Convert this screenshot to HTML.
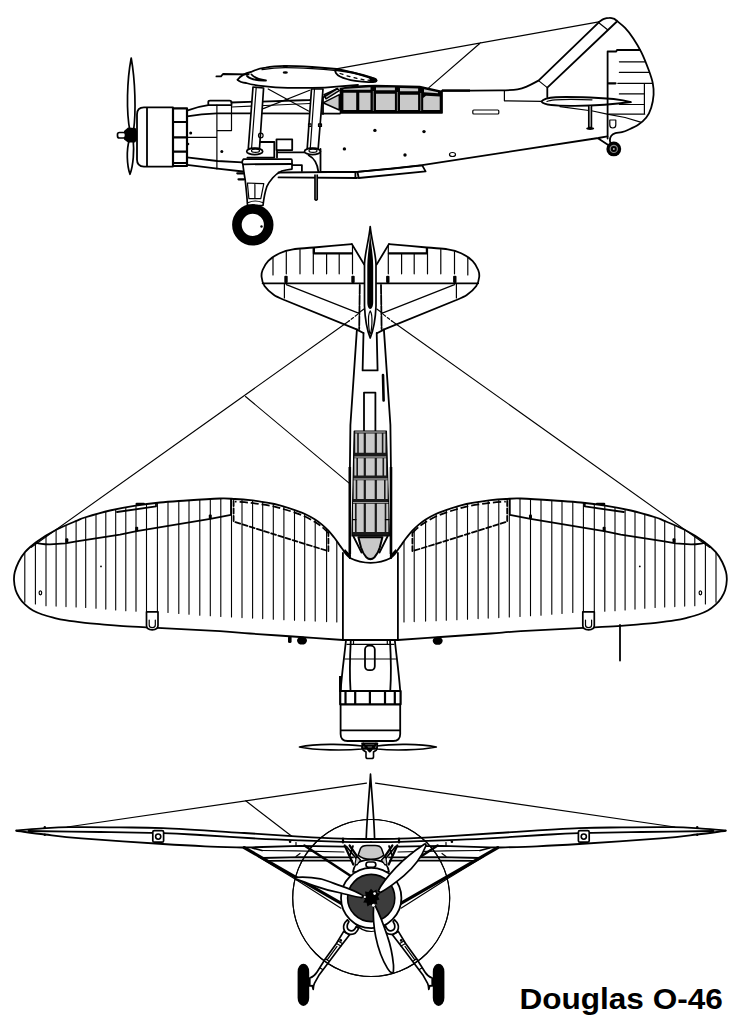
<!DOCTYPE html>
<html><head><meta charset="utf-8">
<style>
html,body{margin:0;padding:0;background:#fff;}
body{width:737px;height:1024px;overflow:hidden;position:relative;font-family:"Liberation Sans",sans-serif;}
svg{position:absolute;left:0;top:0;display:block;}
.m{fill:none;stroke:#000;stroke-width:1.8;stroke-linecap:round;stroke-linejoin:round;}
.t{fill:none;stroke:#000;stroke-width:1.2;stroke-linecap:round;stroke-linejoin:round;}
.h{fill:none;stroke:#000;stroke-width:1.1;stroke-linecap:round;}
.k{fill:none;stroke:#000;stroke-width:2.2;stroke-linecap:round;stroke-linejoin:round;}
.w{fill:#fff;stroke:#000;stroke-width:1.7;stroke-linejoin:round;}
.g{fill:#c9c9c9;stroke:#000;stroke-width:1.5;stroke-linejoin:round;}
.b{fill:#000;stroke:none;}
</style></head><body>
<svg width="737" height="1024" viewBox="0 0 737 1024">
<rect width="737" height="1024" fill="#fff"/>
<!--SIDE-->
<g id="side">
<!-- antenna wires -->
<path class="t" d="M336.3,68.8 L598.8,21.8 M428.9,87.6 L480.6,42.8"/>
<!-- propeller -->
<path class="w" d="M130,131 C126,112 127,80 131.2,58 C135.2,80 136.2,112 133.5,131 Z"/>
<path class="w" d="M129.3,140 C126.3,150 126.8,165 130,174.3 C133.5,165 134.2,150 133.2,140 Z"/>
<path class="b" d="M124,131 L128,127.5 L135.5,128 L137,131 L137,140 L135,142.5 L128,142.5 L124,139.5 Z"/>
<rect x="117.5" y="132.5" width="8" height="5.5" rx="2" class="w"/>
<!-- cowl -->
<path class="m" d="M144,107.4 H173 V166.6 H144 Q137,166.6 137,159.6 V114.4 Q137,107.4 144,107.4 Z M147,107.4 V166.6"/>
<path class="k" d="M173,108.3 H187 V166 H173 Z M173,122 H187 M173,137.4 H187 M173,151.6 H187 M173,163 H187"/>
<!-- forward fuselage -->
<path class="m" d="M187,110.7 C194,108 202,106 208.3,105.2 L208.3,102 Q208.3,100.6 210,100.6 L229.5,100.6 Q231.5,100.6 231.5,102.5 L231.5,105 M208.3,105.2 L231.5,105"/>
<path class="m" d="M231.5,102.5 L309.7,100 L323,97.6"/>
<path class="t" d="M231.5,107 L310,103.5"/>
<path class="m" d="M187,116.3 C197,114.5 207,113.6 216.9,113.4 L340,113.6"/>
<path class="t" d="M216.9,105 V169 M216.9,130.6 H231.5 V105 M187,137.4 H216.9"/>
<path class="m" d="M187,157.4 L217.4,161 L242.5,162.3 M187,164.8 L217.4,168.6 L243,171.5"/>
<circle class="b" cx="190.7" cy="133" r="1.5"/><circle class="b" cx="221.8" cy="151.4" r="1.5"/>
<circle class="b" cx="188" cy="144" r="1.3"/>
<!-- fuselage rear -->
<path class="m" d="M442.0,90.6 C451.7,90.6 487.4,90.6 500.0,90.4 C512.6,90.2 512.9,90.2 517.6,89.4 C522.3,88.7 524.7,87.4 528.2,85.9 C531.7,84.4 536.8,81.5 538.5,80.6 L598.8,22.4"/>
<path class="m" d="M598.8,22.0 C599.7,21.5 602.2,19.6 604.0,18.9 C605.8,18.2 607.8,17.9 609.4,17.9 C611.0,17.8 612.4,18.2 613.5,18.6 C614.6,19.0 614.3,18.8 616.2,20.3 C618.1,21.9 622.2,24.9 625.1,27.9 C628.0,30.9 630.6,34.4 633.3,38.5 C636.0,42.6 638.8,47.0 641.4,52.3 C644.0,57.6 646.9,65.1 648.8,70.3 C650.7,75.5 652.0,79.2 652.8,83.3 C653.6,87.4 653.9,90.6 653.6,94.7 C653.3,98.8 652.4,103.9 651.2,107.7 C650.0,111.5 648.5,114.7 646.3,117.5 C644.1,120.3 641.2,122.8 638.2,124.8 C635.2,126.8 631.1,128.5 628.4,129.7 C625.7,130.9 624.1,131.5 621.9,132.1 C619.7,132.7 617.2,132.6 615.4,133.2 C613.6,133.8 612.2,134.6 611.3,135.8 C610.4,137.0 609.9,139.0 609.9,140.5 C609.9,142.0 610.8,144.2 611.0,145.0"/>
<path class="m" d="M547.3,87.6 L616.4,22 M547.3,87.6 V97"/>
<path class="t" d="M538.5,80.6 L547.3,87.6 M598.8,22.7 L607.6,29.8"/>
<path class="t" d="M504.4,91 V100.8 L541.5,101.4"/>
<!-- fuselage bottom -->
<path class="m" d="M320.5,171.8 L357,171.8 L392.9,168.4 L422.2,165.2 L440,162.3 L598.3,138 L607.4,136.3 M598.3,138.4 L609,145.4"/>
<!-- rudder -->
<path class="m" d="M607.6,51.5 V138.5 M607.6,51.5 L616.2,51.5 L617,50 L639.8,50"/>
<path class="t" d="M619.4,61.8 H644.7 M619.4,72.4 H648.6 M617.8,83.3 H652.4 M619.4,93.9 H644 M619.4,104.5 H644 M608.9,114.2 H644.7 M644.4,83.3 V114.2"/>
<path class="k" d="M608.5,83.3 H615.5"/>
<path class="t" d="M560,106.6 L592.6,111 L607.2,114.2 L625.1,117.5 L641.4,122.4"/>
<!-- stabilizer side -->
<path class="m" d="M541.4,101.5 C545,96.5 560,96.5 590,97.5 C610,98.2 625,100.5 631,102 C620,103.5 600,105.5 575,105.8 C555,106 544,105.5 541.4,101.5 Z"/>
<path class="t" d="M547,101.5 C552,99 570,99 592,99.8"/>
<path class="w" d="M588.8,106 V127.5 H591.4 V106"/>
<ellipse class="b" cx="590.2" cy="128.6" rx="4" ry="1.4"/>
<path class="t" d="M609.8,120 H615.8 V125 Q615.8,128 612.8,128 Q609.8,128 609.8,125 Z"/>
<!-- tail wheel -->

<circle cx="613.8" cy="148.9" r="7.4" fill="#000"/>
<circle cx="613.8" cy="148.9" r="3.6" fill="none" stroke="#8a8a8a" stroke-width="1.2"/>
<circle cx="613.8" cy="148.9" r="1" fill="#bbb"/>
<!-- misc fuselage -->
<rect class="t" x="472.8" y="110" width="26" height="4" rx="1"/>
<ellipse class="t" cx="452.5" cy="154.5" rx="3" ry="2"/>
<circle class="b" cx="374.9" cy="130.4" r="1.7"/><circle class="b" cx="424" cy="131.6" r="1.7"/>
<circle class="b" cx="344.4" cy="148.9" r="1.7"/><circle class="b" cx="405" cy="155" r="1.7"/>
</g>
<g id="side2">
<!-- wing airfoil -->
<path class="m" d="M237.6,79.8 C241,75 246,73 251,72 C256,69.5 262,68 265.7,67.6 C272,66.2 279,65.9 285.3,65.9 C294,65.9 304,66.5 312,67 C322,67.6 330,68.3 336.6,69 C350,71 362,75 376,79.6"/>
<path class="m" d="M237.6,79.8 C240,82 243,82.6 246.2,83 C252,84.8 258,85.6 263.3,86.2 C272,87.4 280,87.9 287.7,87.9 L312,87.9 C322,87.8 330,87.3 336.6,86.6 C345,86 352,85.5 358,85"/>
<path class="t" d="M262,69.6 C272,68 279,67.6 285.3,67.6 C294,67.6 304,68.2 312,68.7 C322,69.3 330,70 336.6,70.6"/>
<path class="m" d="M247,76 C250,79 256,80.8 266,80.5 C259,79.5 254,77.5 251.5,74.5"/>
<ellipse class="b" cx="285.3" cy="66.3" rx="2.6" ry="1.3"/><ellipse class="b" cx="285.3" cy="72.5" rx="2.6" ry="1.3"/>
<path class="m" d="M248.6,74.4 L223,74 L221,76.4 L216.4,76.4"/>
<!-- wing tip oval -->
<path class="m" d="M335.5,70 C345,71 360,74 372,77.5 C378,79 378,82.5 372,82 C362,82.5 348,80.5 340,76.5 C336,74.5 334.5,71.5 335.5,70 Z"/>
<path class="t" d="M340,73.5 L343,74.3 M347,75.8 L350,76.6 M354,77.6 L357,78.4 M361,79.2 L364,79.8 M368,80.2 L370,80.5" />
<path class="b" d="M369,77 L376.5,79 Q378.5,81 376,82.3 L370,82 Z"/>
<!-- cabane struts -->
<path class="w" d="M253,87 L248.3,148.5 L259.5,148.5 L263.6,88 Z"/>
<path class="t" d="M256.2,87.5 L251.6,148"/>
<path class="w" d="M311.5,89 L307.2,148.5 L318.2,148.5 L323,89 Z"/>
<path class="t" d="M314.5,89 L310.3,148"/>
<ellipse class="w" cx="254.7" cy="151.4" rx="8" ry="3.2"/><ellipse class="t" cx="255.5" cy="150.8" rx="4" ry="1.6"/>
<ellipse class="w" cx="312.5" cy="151.4" rx="8" ry="3.2"/><ellipse class="t" cx="313" cy="150.8" rx="4" ry="1.6"/>
<path class="t" d="M268.2,89 L308.5,111 M263.3,108.6 L309.7,90.3"/>
<circle class="t" cx="260.8" cy="135.5" r="2.3"/>
<path class="t" d="M308.5,123.8 H311 V126.5 H308.5 Z M318.5,123.8 H321.5 V126.5 H318.5 Z"/>
<!-- canopy -->
<path class="g" d="M323,102.8 L339.3,94.7 L339.3,110 Z"/>
<path class="g" d="M324,94.7 L337.3,88.6 L339.3,90.6 L326,98.8 Z"/>
<path class="m" d="M323,97.6 L337.3,88.6 M323,97.6 V114"/>
<path d="M340.4,88.6 C352,86.3 364,85.5 375,85.5 L419.7,86.5 L442.1,91.6 L442.1,113 L340.4,113 Z" fill="#000" stroke="#000" stroke-width="1.5" stroke-linejoin="round"/>
<path fill="#c9c9c9" d="M343.4,92.7 H356.2 V110 H343.4 Z M359.3,92.7 H370.5 V110 H359.3 Z M376,93.7 H394.9 V110 H376 Z M400,94.7 H418.1 V110 H400 Z M426,95.7 L439.7,96.5 V110 H423.2 V98 Z"/>
<path fill="#c9c9c9" d="M343.4,88.9 L370.5,87.3 V89.7 H343.4 Z M376,87.6 H394.9 V90.3 H376 Z M400,88 L418.1,88.4 V91.3 H400 Z M424,89.3 L438,92.3 V93.3 L424,92.2 Z"/>
<path stroke="#9a9a9a" stroke-width="0.8" fill="none" d="M373.3,91 V111 M397.4,92 V111 M420.7,93 V111"/>
<path d="M442,90.6 H470" stroke="#000" stroke-width="2.4" fill="none"/>
<!-- boxes by gear -->
<path class="m" d="M276.5,139.3 H292.2 V150.1 H276.5 Z"/>
<path class="m" d="M260.5,142 H274.3 V157.6 M247.4,157.6 H274.3 M277,150.3 V157.6 M277.2,152.4 H304 M292.2,165.1 H301.9 V171"/>
<!-- rear strut fairing -->
<path class="m" d="M308.6,155.2 C314,158 317.5,164 318.3,171.5"/>
<path class="m" d="M320.5,149 V172"/>
<!-- landing gear leg -->
<path class="w" d="M243.5,159.1 L291,159.1 Q292,159.1 292,160.5 L292,169.1 C288,169.6 284.5,170.2 281.7,171 C277.5,173 274.8,175.5 272.8,177.8 C270,181 268,184 266.8,186.7 C265,192 263.8,198 263,205.5 L247.5,205.5 C247,196 246,187 245.1,179.3 C244.2,174 243.4,169 242.9,164.3 Q241.2,161.5 243.5,159.1 Z"/>
<path class="m" d="M242.9,164.3 L292,164"/>
<path class="t" d="M247.4,183 L263.8,183.7 L260.8,198.7 L248.9,198.7 Z M254.9,183.3 V198.7 M248.5,202.5 Q255,199.5 262.5,202.5"/>
<path class="k" d="M237.3,173.3 H243.5 M238.5,179.3 H244"/>
<!-- lower strut -->
<path class="m" d="M278.5,172.5 L355.4,171.8 V178 M278.5,177.4 L357,178 M357.4,171.8 L392.9,168.6 L422.2,165.4 L425.6,171.4 L358.7,178 Z"/>
<path class="w" d="M315,174.6 V199.5 Q316.1,200.6 317.2,199.5 V174.6" />
<!-- main wheel -->
<circle cx="252.8" cy="224.8" r="15.9" fill="#fff" stroke="#000" stroke-width="9.6"/>
<circle class="b" cx="261.5" cy="226.5" r="1.2"/>
</g>
<!--TOP-->
<g id="top">
<g id="LH">
<path class="m" d="M350.0,558.0 C349.3,557.3 347.4,555.8 345.7,553.6 C344.0,551.5 341.6,547.8 339.6,545.1 C337.7,542.4 335.9,539.7 334.0,537.3 C332.1,534.9 330.4,532.7 328.4,530.6 C326.4,528.5 324.2,526.5 322.0,524.6 C319.8,522.8 317.9,521.3 315.1,519.5 C312.3,517.7 308.4,515.6 305.0,514.0 C301.6,512.4 298.3,511.3 294.8,510.1 C291.3,508.9 287.4,507.6 284.0,506.6 C280.6,505.6 278.1,504.8 274.4,504.0 C270.7,503.2 266.1,502.4 262.0,501.8 C257.9,501.2 254.5,500.7 250.0,500.2 C245.5,499.7 240.0,499.3 235.0,499.0 C230.0,498.7 228.1,498.2 220.0,498.5 C211.9,498.8 196.6,499.8 186.6,500.5 C176.6,501.2 168.5,501.6 160.0,502.5 C151.5,503.4 144.0,504.3 135.7,505.6 C127.4,506.9 118.5,508.5 110.0,510.5 C101.5,512.5 90.4,515.8 84.8,517.5 C79.2,519.2 81.3,518.8 76.5,520.8 C71.7,522.8 62.7,526.4 56.2,529.8 C49.7,533.2 42.7,537.5 37.5,541.2 C32.3,544.9 28.3,548.3 25.2,551.8 C22.1,555.3 20.3,558.6 18.6,562.0 C16.9,565.4 15.6,569.0 14.8,572.0 C14.0,575.0 13.9,577.0 14.0,580.0 C14.1,583.0 14.7,587.0 15.6,590.0 C16.5,593.0 17.9,595.5 19.5,598.0 C21.1,600.5 22.9,602.6 25.2,604.7 C27.4,606.8 30.1,608.9 33.0,610.5 C35.9,612.1 38.8,613.3 42.3,614.5 C45.8,615.7 50.2,616.8 54.0,617.8 C57.8,618.8 59.9,619.4 65.1,620.2 C70.3,621.0 78.9,622.1 85.0,622.8 C91.1,623.5 96.0,623.8 101.8,624.3 C107.6,624.8 111.5,625.3 120.0,625.9 C128.5,626.5 135.9,626.8 152.6,627.7 C169.3,628.6 203.8,630.2 220.0,631.2 C236.2,632.2 236.7,632.5 250.0,633.5 C263.3,634.5 284.5,635.9 300.0,637.0 C315.5,638.1 335.8,639.5 342.9,640.0"/>
<path class="h" d="M24.8,552.7 V602.3 M35.4,543.2 V604.0 M46.0,536.1 V605.7 M56.1,530.4 V606.1 M66.0,525.7 V606.6 M76.1,521.5 V607.0 M85.7,517.7 V607.4 M96.0,514.7 V608.3 M105.8,512.0 V609.1 M115.7,509.7 V609.9 M125.8,507.8 V610.8 M136.0,506.1 V611.2 M146.5,504.5 V611.6 M157.4,503.3 V612.1 M168.0,502.3 V612.5 M178.8,501.5 V613.4 M189.0,500.8 V614.3 M199.8,500.1 V615.2 M210.3,499.5 V615.8 M220.8,499.0 V616.4 M231.5,499.3 V617.0 M242.0,500.0 V617.6 M252.6,501.0 V618.1 M262.7,502.4 V618.6 M273.3,504.3 V619.2 M283.9,507.1 V619.7 M294.5,510.5 V620.2 M304.7,514.4 V620.7 M315.2,520.1 V621.1 M326.6,529.3 V621.6 M336.8,541.6 V622.0"/>
<path class="m" d="M35.8,542.6 Q41,544.4 50,544.3 L65.1,543.4 L76.5,541.4 L120,534.6 L136.7,531.2 L210.3,518.8 L231,514.8 M231,499.2 V514.8"/>
<rect class="b" x="65.3" y="538.2" width="3" height="4.6" rx="1"/>
<rect class="b" x="135.2" y="526.8" width="3" height="4.6" rx="1"/>
<rect class="b" x="208.8" y="514.4" width="3" height="4.6" rx="1"/>
<path class="m" d="M117,512 L156,506.4 V503.4"/>
<rect class="b" x="135.5" y="502.7" width="9.5" height="2.4" rx="1.2"/>
<path class="m" stroke-dasharray="5 2.5" d="M233.6,501 V521.6 L328.4,551.2 V532.5"/>
<path d="M328.4,533.0 C327.3,532.0 324.2,528.8 322.0,527.0 C319.8,525.2 317.9,523.7 315.1,522.0 C312.3,520.3 308.4,518.2 305.0,516.6 C301.6,515.0 298.3,513.8 294.8,512.6 C291.3,511.4 287.4,510.2 284.0,509.2 C280.6,508.2 278.1,507.4 274.4,506.6 C270.7,505.8 266.1,505.0 262.0,504.4 C257.9,503.8 254.5,503.3 250.0,502.8 C245.5,502.3 237.5,501.8 235.0,501.6" fill="none" stroke="#000" stroke-width="1.7" stroke-dasharray="8 3"/>
<path class="w" d="M146.5,611.8 H158 V625.5 Q158,629.8 152.2,629.8 Q146.5,629.8 146.5,625.5 Z"/>
<path class="t" d="M149.2,620 V625 Q149.2,627.6 152.2,627.6 Q155.3,627.6 155.3,625 V620"/>
<ellipse class="t" cx="40.4" cy="592.8" rx="1.3" ry="2"/>
<path class="m" d="M351.9,244.1 C345.6,244.7 323.7,246.6 313.9,247.5 C304.1,248.4 298.7,248.5 293.0,249.4 C287.3,250.3 283.8,251.3 279.7,253.2 C275.6,255.1 271.1,258.0 268.3,260.8 C265.5,263.6 263.7,267.3 262.6,270.0 C261.5,272.7 261.3,274.3 261.6,277.0 C261.9,279.7 262.4,283.0 264.5,286.0 C266.6,289.0 270.7,292.7 274.0,295.0 C277.3,297.3 282.7,299.2 284.4,300.0 L357.2,329.6"/>
<path class="m" d="M262.6,283.3 H364.2 M351.9,244.1 L364.2,264.6"/>
<path class="k" d="M313.9,248.2 V253.4 H351.9"/>
<path class="t" d="M273.0,258.0 V275.0 M286.3,251.6 V273.8 M300.0,249.6 V273.8 M313.3,248.5 V273.8 M326.6,253.8 V273.8 M339.2,253.8 V273.8 M352.5,245.5 V273.8"/>
<rect class="b" x="284.3" y="275.7" width="3.4" height="7.2" rx="1"/>
<rect class="b" x="351.3" y="275.7" width="3.4" height="7.2" rx="1"/>
<path class="t" d="M284.4,283.3 V298 M286.3,284.6 L358.5,313.1"/>
<path class="h" d="M349,321 L31,547.5"/>
<circle class="b" cx="101" cy="566.4" r="0.9"/>
<path class="h" stroke-dasharray="3 2" d="M357.5,314.4 L349,321"/>
<path class="m" d="M356.9,329.6 L350.4,425 L349.9,467 L350,558"/>
<path class="m" stroke-dasharray="9 1.5" d="M359.8,285 L359.2,329"/>
<path class="t" d="M358.5,313.1 L364,309"/>
<path class="m" d="M356.9,329.6 L363.4,333"/>
</g>
<use href="#LH" transform="matrix(-1,0,0,1,740.8,0)"/>
<path class="w" d="M370.2,226.6 C369,240 365,252 364.5,264 L364.5,306 C365,318 367,330 370.2,338 C373.5,330 375.5,318 376,306 L376,264 C375.5,252 371.5,240 370.2,226.6 Z"/>
<path class="b" d="M370.2,232 C369.3,246 367.3,256 367.3,266 L367.3,302 C367.3,306 368.5,309 370.2,309 C372,309 373.2,306 373.2,302 L373.2,266 C373.2,256 371.2,246 370.2,232 Z"/>
<path class="t" d="M370.2,311 C368.6,313 368.3,318 368.6,324 C369,330 369.6,333 370.2,334 C370.9,333 371.5,330 371.9,324 C372.2,318 371.9,313 370.2,311 Z"/>
<path class="m" d="M363.5,333 L362.6,370.4 H377.6 L376.7,333"/>
<path class="m" d="M364,431.7 V392.6 H375.4 V431.7"/>
<path d="M383,375 L383.6,400.5" stroke="#000" stroke-width="2.6" stroke-linecap="round" fill="none"/>
<path d="M354.2,431 H386.4 L389.3,533.6 V536 H352 V533.6 Z" fill="#1a1a1a" stroke="#000" stroke-width="1.2" stroke-linejoin="round"/>
<path fill="#c9c9c9" d="M355.2,433.4 H357.2 V452.8 H355.2 Z M358.8,433.4 H363.7 V452.8 H358.8 Z M365.9,433.4 H374.7 V452.8 H365.9 Z M376.9,433.4 H381.8 V452.8 H376.9 Z M383.4,433.4 H385.4 V452.8 H383.4 Z M355.2,431.6 H385.4 V432.5 H355.2 Z M354.4,458.3 H356.4 V475.5 H354.4 Z M358.0,458.3 H363.7 V475.5 H358.0 Z M365.9,458.3 H374.7 V475.5 H365.9 Z M376.9,458.3 H382.5 V475.5 H376.9 Z M384.1,458.3 H386.1 V475.5 H384.1 Z M354.4,456.5 H386.1 V457.4 H354.4 Z M353.7,480.3 H355.7 V499.0 H353.7 Z M357.3,480.3 H363.7 V499.0 H357.3 Z M365.9,480.3 H374.7 V499.0 H365.9 Z M376.9,480.3 H384.0 V499.0 H376.9 Z M385.6,480.3 H387.6 V499.0 H385.6 Z M353.7,478.5 H387.6 V479.4 H353.7 Z M353.0,503.7 H355.0 V532.0 H353.0 Z M356.6,503.7 H363.7 V532.0 H356.6 Z M365.9,503.7 H374.7 V532.0 H365.9 Z M376.9,503.7 H384.7 V532.0 H376.9 Z M386.3,503.7 H388.3 V532.0 H386.3 Z M353.0,501.9 H388.3 V502.8 H353.0 Z"/>
<path class="t" d="M352.5,519.6 H356 M385.4,519.6 H389"/>
<path fill="#c9c9c9" stroke="#000" stroke-width="2" stroke-linejoin="round" d="M358.4,537.2 H382.4 L379.8,547.5 C378.5,552 376.6,555 374.5,557.2 C372,559.6 368.8,559.6 366.3,557.2 C364.2,555 362.4,552 361,547.5 Z"/>
<path class="m" d="M353.5,536.5 L361.5,552.5 M387.5,536.5 L379.5,552.5"/>
<path d="M349.8,467 V554 M391,467 V554" stroke="#000" stroke-width="2.6" fill="none"/>
<path class="m" d="M350,558 C356,561 363,562.8 370.6,562.8 C378,562.8 385,561 390.8,558"/>
<path class="m" d="M342.9,553 V640 H397.9 V553"/>
<path class="b" d="M345,549 L351,555.5 L349.5,558 L343.5,552 Z M395.8,549 L389.8,555.5 L391.3,558 L397.3,552 Z"/>
<path class="m" d="M346,640 C344.5,655 342,672 340.6,690.8 M394.8,640 C396.3,655 398.8,672 400.2,690.8"/>
<path class="m" d="M350.8,640 C350,655 349.5,675 350.5,690 M390,640 C390.8,655 391.3,675 390.3,690"/>
<path class="t" d=" M347,644.4 H393.8 M345,659 H395.8 M353.5,640 V644.4 M387.3,640 V644.4"/>
<rect class="m" x="365" y="645.6" width="9.8" height="24.6" rx="4"/>
<path class="k" d="M340.2,691 H400.6 V704.3 H340.2 Z M345.5,691 V704.3 M355.2,691 V704.3 M369.9,691 V704.3 M385,691 V704.3 M394.8,691 V704.3"/>
<path class="m" d="M340.6,704.3 V734 Q340.6,741 347.6,741 H393.2 Q400.2,741 400.2,734 V704.3 M340.6,730.4 H400.2"/>
<path d="M340.3,676 V692" stroke="#000" stroke-width="2.6" fill="none"/>
<path class="w" d="M299.5,747 C315,743.6 345,743.6 362,746 L362,749 C345,750.6 315,750.4 299.5,747 Z"/>
<path class="w" d="M436.3,747 C420,743.6 392,743.6 377,746 L377,749 C392,750.6 420,750.4 436.3,747 Z"/>
<path fill="#fff" stroke="#000" stroke-width="1.6" stroke-linejoin="round" d="M362,743.2 H377.5 L376.5,750 L373.5,752 V757 Q373.5,758.5 371.5,758.5 H367.8 Q366,758.5 366,757 V752 L363,750 Z"/>
<path d="M363.5,744 L369.5,751 M376,744 L370,751 M364,748.5 L375,748.5 M364,745.5 H375.5" fill="none" stroke="#000" stroke-width="2.6" stroke-linecap="round"/>
<rect class="b" x="288" y="636" width="3.6" height="7" rx="1.6"/>
<ellipse class="b" cx="302" cy="640.6" rx="5" ry="4"/>
<ellipse class="b" cx="437.7" cy="640.8" rx="5" ry="4"/>
<path class="m" d="M620,625 V660.6"/>
<path class="h" d="M245.5,396.5 L349.4,483.4"/>
</g>
<!--FRONT-->
<g id="front">
<circle class="h" cx="371.2" cy="898" r="78.5"/>
<g id="FL">
<path class="m" d="M16.3,830.4 C20.2,830.1 31.2,829.1 40.0,828.6 C48.8,828.1 55.9,827.4 69.2,827.2 C82.5,827.0 104.4,827.2 120.0,827.4 C135.6,827.6 142.1,827.3 162.8,828.2 C183.5,829.1 221.3,831.6 244.2,833.0 C267.1,834.4 283.5,835.6 300.0,836.6 C316.5,837.6 331.2,838.3 343.0,838.7 C354.8,839.1 366.3,839.0 371.0,839.0"/>
<path class="m" d="M28.5,831.0 C40.4,831.2 77.6,831.6 100.0,832.0 C122.4,832.4 146.1,832.7 162.8,833.2 C179.5,833.7 184.2,834.1 200.0,835.0 C215.8,835.9 240.6,837.7 257.3,838.6 C274.0,839.5 285.8,839.9 300.0,840.4 C314.2,840.9 330.6,841.5 342.4,841.8 C354.2,842.1 366.2,842.1 371.0,842.2"/>
<path class="m" d="M16.3,830.8 C21.1,831.4 34.1,833.2 45.0,834.5 C55.9,835.8 61.8,836.8 81.4,838.4 C101.0,840.0 142.2,842.7 162.8,844.0 C183.4,845.3 191.4,845.7 205.0,846.3 C218.6,846.9 237.7,847.3 244.2,847.5"/>
<path class="m" d="M244.2,847.5 L252.3,847.3 L300,845.8 L344.7,846.6"/>
<path class="t" d="M296,842.5 V846"/>
<circle class="b" cx="44.8" cy="827.2" r="1.2"/><circle class="b" cx="44.8" cy="834.8" r="1.2"/>
<rect class="w" x="152.8" y="830.6" width="10.8" height="11.6" rx="1.5"/>
<circle cx="158.2" cy="836.6" r="2.6" fill="#fff" stroke="#000" stroke-width="1.6"/>
<path class="t" d="M67.2,827 L366.5,783.2"/>
<path class="m" d="M262,858 L300,857.2 L353,857.4 M262,858 L267,860.8 L300,860.6 L352,860.6"/>
<path d="M244.2,847.6 L343.8,904.8" stroke="#000" stroke-width="3.2" fill="none" stroke-linecap="round"/>
<path class="t" d="M258,856.5 L295,879 L341,908.2"/>
<path class="m" d="M252.3,848 L262,850.5"/>
<path class="t" d="M262,850.5 L296,850.8 L344,852"/>
<path d="M304.4,845.5 L350.8,876" stroke="#000" stroke-width="2.6" fill="none" stroke-linecap="round"/>
<path class="t" d="M296,856.5 L300,853.5"/>
<path class="k" d="M343,838.7 L343,842.5 M344.7,845.5 L353.3,864.5 M349.6,845.5 L360.6,861.4"/>
<path class="m" d="M346.5,846.5 L357.6,860.2 M353,846 L350,855"/>
<path class="w" d="M343.7,931.4 L336.4,943.5 L325.4,958.8 L316.9,972.3 C315.5,974.5 313,977 309.8,978 L309.8,986 L312.2,985.6 L313.2,989.4 C313.4,986.5 313.8,984.5 314.4,983.3 L319.3,974.7 L328.5,962.5 L340.5,946.6 L349.8,934.4 Z"/>
<path class="t" d="M336.4,943.5 L341,946 M338.2,941 L342.6,943.8 M325.4,958.8 L329.4,961.4 M324,960.8 L328,963.4 M337,946.4 L327.4,959.6 M320.2,968 L322.6,969.6"/>
<circle class="b" cx="340.8" cy="940.4" r="1.3"/>
<path class="w" d="M347.4,919.8 C344.5,922.5 343,925.5 343.7,928.5 C344.3,931.5 346.5,933.8 349.8,934.4 C353.5,934.8 357,932.5 358.6,928.3 L356.2,926.6 C355,929.5 353.3,931 351,930.8 C348.6,930.4 347,928.5 347.2,926 C347.3,924.5 348,923 348.9,921.8 Z"/>
<rect class="b" x="297.6" y="963.7" width="11.6" height="42.2" rx="5.8" ry="8"/>
</g>
<use href="#FL" transform="matrix(-1,0,0,1,742.0,0)"/>
<path class="w" d="M370.5,774.2 C369.6,790 367,815 366.2,838.8 L374.6,838.8 C374,815 371.4,790 370.5,774.2 Z"/>
<path class="t" d="M245.7,800.8 L292.1,836.4"/>
<circle class="b" cx="290.1" cy="841.8" r="1.3"/><circle class="b" cx="451.9" cy="841.8" r="1.3"/>
<circle class="h" cx="371.2" cy="898" r="78.5"/>
<path class="w" d="M353,872 C354,866 357,862.5 360.6,861.4 C364,860 367.5,859.7 370.9,859.7 C374.5,859.7 378,860 381.4,861.4 C385,862.5 388,866 389,872 Z"/>
<path d="M360.5,848.5 C361.5,846.3 364,845.5 367,845.5 L375,845.5 C378,845.5 380.5,846.3 381.5,848.5 L383.8,855 C381,858 376.5,859.3 371,859.3 C365.5,859.3 361,858 358.2,855 Z" fill="#c9c9c9" stroke="#000" stroke-width="1.5" stroke-linejoin="round"/>
<path d="M356.5,856 L360.5,860 L357,865 L355,864 Z M385.5,856 L381.5,860 L385,865 L387,864 Z" fill="#c9c9c9" stroke="#000" stroke-width="1.2" stroke-linejoin="round"/>
<rect class="w" x="366" y="862" width="9.8" height="5.4" rx="2.6"/>
<circle cx="371.2" cy="898" r="30.2" fill="#fff" stroke="#000" stroke-width="1.8"/>
<circle cx="371.2" cy="898" r="23.6" fill="#3c3c3c" stroke="#000" stroke-width="1.6"/>
<path class="t" d="M355,923.5 C360,929.5 366,931.5 371.2,931.5 C377,931.5 383,929.5 387.5,923.5"/>
<path class="w" d="M378.3,890.8 C380,887 388,876 395.8,867.6 C404,859 414,851 424.3,844.2 C425.5,843.5 426.3,844.6 425.8,846 C422,856 414,867 404,875.7 C396,882.5 386,889.5 380.5,892.5 Z"/>
<path class="w" d="M363,895.6 C358,892.5 350,889 340.9,885.9 C334,883.5 327,880.5 320.5,878.8 C312,877.3 303,877 296.5,877.4 C295.2,877.6 295.2,879 296.5,879.4 C302,881 308,883.5 314.4,885.9 C323,889 332,891.3 340.9,893 C349,895 356,897.3 362,897.6 Z"/>
<path class="w" d="M373.6,906.5 C373,915 373.8,927 375.7,936.6 C378,948 383,961 387.5,968.4 C389,971 390.6,972.4 391.9,972.9 C392.8,973.2 393.3,972.4 393.4,971 C393.6,968 393.6,967 393.5,965 C392.5,955 390.5,945 387.5,936.6 C384,926 379,913 375.4,906 Z"/>
<path class="b" d="M371,888.8 L373.5,891.2 L376.5,889.6 L377,892.8 L380.2,893.6 L378,896.4 L379.6,899.6 L376.6,900.4 L377.4,904.4 L374.2,903.6 L373,907.4 L370.4,904.4 L367.4,906.4 L366.6,902.8 L363.2,902.4 L365,899.2 L362.4,896.6 L365.6,895.2 L365,891.6 L368.4,892 Z"/>
<circle cx="373.4" cy="905.2" r="1.5" fill="#fff"/><circle cx="374.6" cy="893.6" r="1.3" fill="#fff"/><circle cx="364.8" cy="897" r="1.1" fill="#fff"/>
</g>
<text id="cap" transform="translate(519.4,1009) scale(1.042,1)" font-family="Liberation Sans, sans-serif" font-weight="bold" font-size="30.3" fill="#000">Douglas O-46</text>
</svg>
</body></html>
